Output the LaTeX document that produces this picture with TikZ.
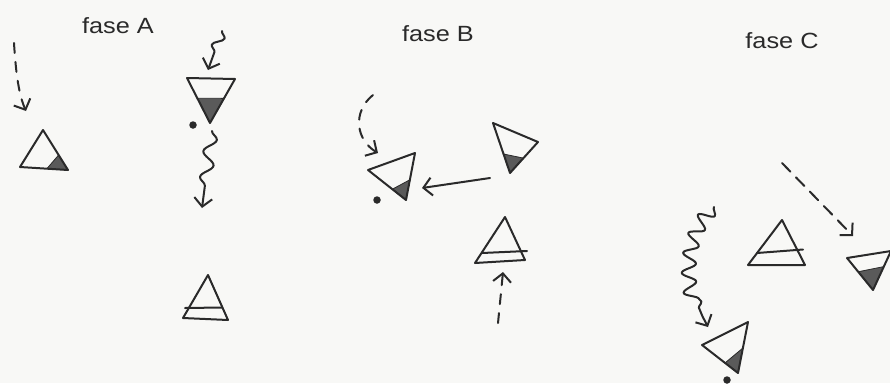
\documentclass[tikz,border=0pt]{standalone}
\usepackage{fontspec}
\setmainfont{Liberation Sans}[FakeStretch=1.15]
\usetikzlibrary{arrows.meta,calc,decorations.pathmorphing}
\definecolor{inkc}{HTML}{2A2A2A}
\definecolor{shadec}{HTML}{5A5A5A}
\definecolor{paperc}{HTML}{F8F8F6}
\begin{document}
\begin{tikzpicture}[x=1pt,y=-1pt,
  pen/.style={draw=inkc, line width=2pt, line cap=round, line join=round},
  shd/.style={fill=shadec, draw=inkc, line width=0.8pt, line join=round},
  barb/.style={-{Straight Barb[length=8.5pt,width=18pt]}},
  dsh/.style={dash pattern=on 10pt off 9pt},
  lbl/.style={font=\fontsize{22}{26}\selectfont, text=inkc, inner sep=0pt, anchor=base},
  dotn/.style={circle, fill=inkc, inner sep=0pt, minimum size=7.5pt}
]
\fill[paperc] (0,0) rectangle (890,383);
\useasboundingbox (0,0) rectangle (890,383);

% ---------- labels ----------
\node[lbl] (labA) at (118,33) {fase A};
\node[lbl] (labB) at (438,41.5) {fase B};
\node[lbl] (labC) at (782,48) {fase C};

% ---------- fase A ----------
% left triangle
\coordinate (a1t) at (43,130);
\coordinate (a1l) at (20,167);
\coordinate (a1r) at (68,170);
\filldraw[shd] (a1r) -- ($(a1r)!0.375!(a1t)$) -- ($(a1r)!0.44!(a1l)$) -- cycle;
\draw[pen] (a1t) -- (a1l) -- (a1r) -- cycle;
% dashed arrow into it
\coordinate (a0s) at (14,43);
\coordinate (a0e) at (26,111);
\draw[pen,dsh,barb] (a0s) .. controls (16,75) and (19,95) .. (a0e);

% inverted triangle
\coordinate (a2l) at (187,78);
\coordinate (a2r) at (235,79);
\coordinate (a2b) at (210,123);
\filldraw[shd] (a2b) -- ($(a2b)!0.55!(a2l)$) -- ($(a2b)!0.56!(a2r)$) -- cycle;
\draw[pen] (a2l) -- (a2r) -- (a2b) -- cycle;
\node[dotn] (dA) at (193,125) {};
% wavy arrows
\coordinate (aw1s) at (222,31);
\coordinate (aw1e) at (208,70);
\draw[pen,barb,decorate,decoration={snake,amplitude=5pt,segment length=20pt,post length=10pt}] (aw1s) -- (aw1e);
\coordinate (aw2s) at (212,131);
\coordinate (aw2e) at (202,208);
\draw[pen,barb,decorate,decoration={snake,amplitude=6pt,segment length=26pt,post length=14pt}] (aw2s) -- (aw2e);

% bar triangle
\coordinate (a3t) at (208,275);
\coordinate (a3l) at (183,318);
\coordinate (a3r) at (228,320);
\draw[pen] (a3t) -- (a3l) -- (a3r) -- cycle;
\draw[pen] (185,308) -- (222,307.5);

% ---------- fase B ----------
\coordinate (b1l) at (368,170);
\coordinate (b1r) at (415,153);
\coordinate (b1b) at (406,200);
\filldraw[shd] (b1b) -- ($(b1b)!0.36!(b1l)$) -- ($(b1b)!0.43!(b1r)$) -- cycle;
\draw[pen] (b1l) -- (b1r) -- (b1b) -- cycle;
\node[dotn] (dB) at (377,200) {};
\coordinate (bd1s) at (373,95);
\coordinate (bd1e) at (378,153);
\draw[pen,dsh,barb] (bd1s) .. controls (352,112) and (356,140) .. (bd1e);

\coordinate (b2l) at (493,123);
\coordinate (b2r) at (538,142);
\coordinate (b2b) at (510,173);
\filldraw[shd] (b2b) -- ($(b2b)!0.38!(b2l)$) -- ($(b2b)!0.48!(b2r)$) -- cycle;
\draw[pen] (b2l) -- (b2r) -- (b2b) -- cycle;
\coordinate (bs) at (490,178);
\coordinate (be) at (422,188);
\draw[pen,barb] (bs) -- (be);

\coordinate (b3t) at (505,217);
\coordinate (b3l) at (475,263);
\coordinate (b3r) at (525,260);
\draw[pen] (b3t) -- (b3l) -- (b3r) -- cycle;
\draw[pen] (482,253) -- (527,251);
\coordinate (bu1) at (498,323);
\coordinate (bu2) at (503,272);
\draw[pen,dsh,barb] (bu1) -- (bu2);

% ---------- fase C ----------
\coordinate (c1t) at (782,220);
\coordinate (c1l) at (748,265);
\coordinate (c1r) at (805,265);
\draw[pen] (c1t) -- (c1l) -- (c1r) -- cycle;
\draw[pen] (757,253) -- (803,249.5);

\coordinate (c2l) at (847,258);
\coordinate (c2r) at (891,251);
\coordinate (c2b) at (873,290);
\filldraw[shd] (c2b) -- ($(c2b)!0.57!(c2l)$) -- ($(c2b)!0.6!(c2r)$) -- cycle;
\draw[pen] (c2l) -- (c2r) -- (c2b) -- cycle;
\coordinate (cds) at (782,163);
\coordinate (cde) at (853,236);
\draw[pen,dash pattern=on 12pt off 8pt,barb] (cds) -- (cde);

\coordinate (c3l) at (702,345);
\coordinate (c3r) at (748,322);
\coordinate (c3b) at (738,373);
\filldraw[shd] (c3b) -- ($(c3b)!0.36!(c3l)$) -- ($(c3b)!0.49!(c3r)$) -- cycle;
\draw[pen] (c3l) -- (c3r) -- (c3b) -- cycle;
\node[dotn] (dC) at (727,380) {};
\coordinate (cws) at (714,207);
\coordinate (cwe) at (708,327);
\draw[pen,barb,decorate,decoration={snake,amplitude=7pt,segment length=19pt,post length=12pt}] (cws) .. controls (686,235) and (686,290) .. (cwe);

\end{tikzpicture}
\end{document}
